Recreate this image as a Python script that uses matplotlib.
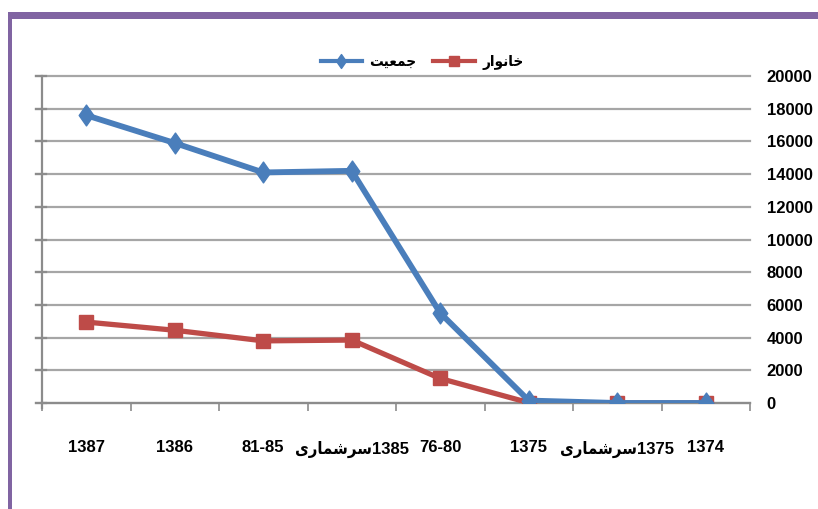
import matplotlib
matplotlib.use("Agg")
import matplotlib.pyplot as plt
from matplotlib.path import Path
from matplotlib.lines import Line2D
from matplotlib.patches import Rectangle
import numpy as np

# Persian words written in visual (presentation-form) order
SAR = "\uFEEF\uFEAD\uFE8E\uFEE4\uFEB7\uFEAE\uFEB3"          # سرشماری
POP_NAME = "\uFE96\uFEF4\uFECC\uFEE4\uFE9F"                # جمعیت
HH_NAME = "\uFEAD\uFE8D\uFEEE\uFEE7\uFE8E\uFEA7"           # خانوار

categories = ['1387', '1386', '81-85', SAR + '1385', '76-80', '1375', SAR + '1375', '1374']
population = [17600, 15900, 14100, 14200, 5500, 150, 0, 0]
households = [4950, 4450, 3800, 3850, 1500, 20, 0, 0]
y_ticks = [0, 2000, 4000, 6000, 8000, 10000, 12000, 14000, 16000, 18000, 20000]

BLUE = '#4a7ebb'
RED = '#be4b48'
GRID = '#a6a6a6'
FONT = ['Liberation Sans', 'DejaVu Sans']

W, H = 818, 509
fig = plt.figure(figsize=(W / 100, H / 100), dpi=100)
fig.patch.set_facecolor('white')

# purple frame (top and left)
fig.patches.append(Rectangle((8 / W, 0), 4 / W, 1 - 12 / H, transform=fig.transFigure,
                             facecolor='#8064a2', edgecolor='none'))
fig.patches.append(Rectangle((8 / W, 1 - 19 / H), 1, 7 / H, transform=fig.transFigure,
                             facecolor='#8064a2', edgecolor='none'))

ax = fig.add_axes([42 / W, 1 - 403 / H, (750 - 42) / W, (403 - 76) / H])
ax.set_facecolor('none')

x = np.arange(len(categories))
diamond = Path([(0, 1), (0.7, 0), (0, -1), (-0.7, 0), (0, 1)],
               [Path.MOVETO, Path.LINETO, Path.LINETO, Path.LINETO, Path.CLOSEPOLY])

ax.plot(x, households, color=RED, lw=3.8, marker='s', ms=9.5,
        markerfacecolor=RED, markeredgecolor=RED, zorder=3, solid_capstyle='round')
ax.plot(x, population, color=BLUE, lw=4.2, marker=diamond, ms=15,
        markerfacecolor=BLUE, markeredgecolor=BLUE, zorder=4, solid_capstyle='round')

ax.set_xlim(-0.5, len(categories) - 0.5)
ax.set_ylim(0, 20000)

ax.set_yticks(y_ticks)
ax.set_yticklabels([str(v) for v in y_ticks], fontsize=12, fontweight='bold', family=FONT)
ax.yaxis.tick_right()
ax.tick_params(axis='y', which='major', length=0, pad=12, labelcolor='black')
for yv in y_ticks:
    ax.axhline(yv, color=GRID, lw=1.6, zorder=1, xmin=-6 / 708, xmax=1, clip_on=False)

ax.set_xticks(x)
ax.set_xticklabels(categories, fontsize=12, fontweight='bold', family=FONT,
                   fontstretch='condensed')
ax.tick_params(axis='x', which='major', length=0, pad=27, labelcolor='black')
ax.set_xticks(np.arange(-0.5, len(categories)), minor=True)
ax.tick_params(axis='x', which='minor', length=6, width=1.2, color='#8c8c8c', direction='out')

for s in ['top', 'right']:
    ax.spines[s].set_visible(False)
ax.spines['left'].set_color('#8c8c8c')
ax.spines['left'].set_linewidth(1.6)
ax.spines['left'].set_bounds(-300, 20000)
ax.spines['bottom'].set_color('#8c8c8c')
ax.spines['bottom'].set_linewidth(1.6)
# left-side tick marks
for yv in y_ticks:
    ax.plot([-0.5 - 6 / 88.5, -0.5 + 4 / 88.5], [yv, yv], color='#8c8c8c', lw=1.6,
            clip_on=False, zorder=2)

handles = [Line2D([], [], color=BLUE, lw=3, marker=diamond, ms=10),
           Line2D([], [], color=RED, lw=3, marker='s', ms=7)]
leg = fig.legend(handles, [POP_NAME, HH_NAME], loc='center', bbox_to_anchor=(422 / W, 1 - 62 / H),
                 ncol=2, frameon=False, handlelength=2.7, columnspacing=1.1, handletextpad=0.5,
                 prop={'family': ['DejaVu Sans'], 'weight': 'bold', 'size': 11,
                       'stretch': 'condensed'})

fig.savefig('out.png', dpi=100, facecolor='white')
